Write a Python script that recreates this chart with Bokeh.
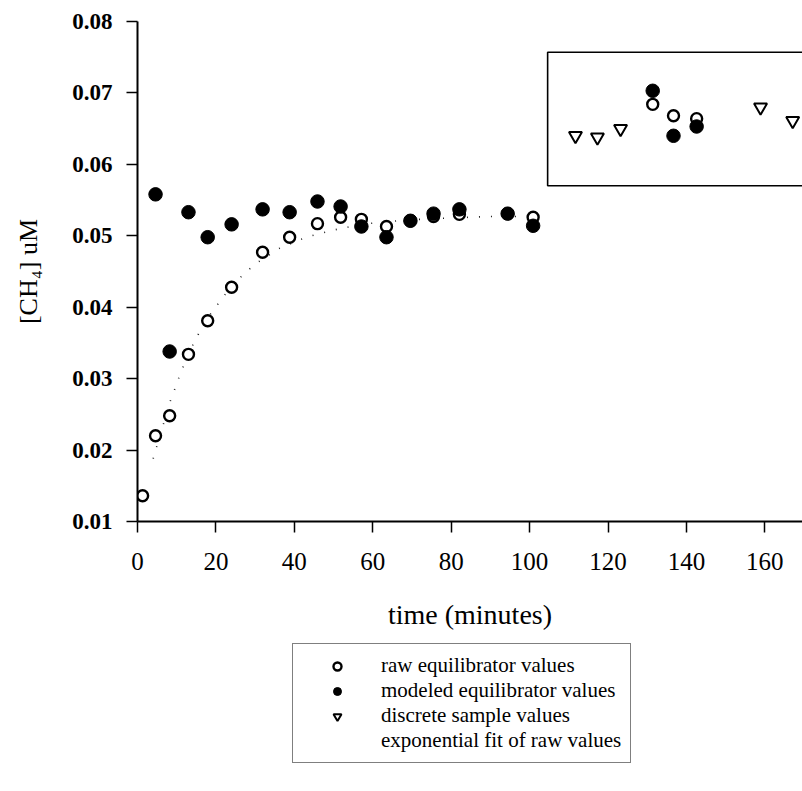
from bokeh.plotting import figure
from bokeh.layouts import column
from bokeh.models import Range1d, FixedTicker, PrintfTickFormatter, Legend, LegendItem
from bokeh.embed import file_html
from bokeh.resources import INLINE

# ---- data ----
raw_t = [1.3, 4.6, 8.2, 13.0, 17.9, 24.0, 31.9, 38.8, 45.9, 51.8, 57.1, 63.5, 69.6, 75.5,
         82.1, 94.4, 100.9, 131.4, 136.7, 142.6]
raw_c = [0.0136, 0.0220, 0.0248, 0.0334, 0.0381, 0.0428, 0.0477, 0.0498, 0.0517, 0.0526,
         0.0523, 0.0513, 0.0521, 0.0527, 0.0530, 0.0531, 0.0526, 0.0684, 0.0668, 0.0664]
mod_t = [4.6, 8.2, 13.0, 17.9, 24.0, 31.9, 38.8, 45.9, 51.8, 57.1, 63.5, 69.6, 75.5,
         82.1, 94.4, 100.9, 131.4, 136.7, 142.6]
mod_c = [0.0558, 0.0338, 0.0533, 0.0498, 0.0516, 0.0537, 0.0533, 0.0548, 0.0541, 0.0513,
         0.0498, 0.0521, 0.0531, 0.0537, 0.0531, 0.0514, 0.0703, 0.0640, 0.0653]
disc_t = [111.7, 117.3, 123.2, 158.9, 167.1]
disc_c = [0.0640, 0.0638, 0.0650, 0.0680, 0.0661]
fit_t = [4, 6, 8.4, 11, 13, 15.5, 18, 20.6, 24, 28, 31, 36, 43, 50, 57, 64, 72, 80, 90, 101]
fit_c = [0.0188, 0.0225, 0.0269, 0.0308, 0.0335, 0.0362, 0.0386, 0.0405, 0.0430, 0.0451,
         0.0464, 0.0482, 0.0498, 0.0508, 0.0516, 0.0520, 0.0523, 0.0525, 0.0527, 0.0527]

x_ticks = [0, 20, 40, 60, 80, 100, 120, 140, 160]
y_ticks = [0.01, 0.02, 0.03, 0.04, 0.05, 0.06, 0.07, 0.08]

labels = ["raw equilibrator values", "modeled equilibrator values",
          "discrete sample values", "exponential fit of raw values"]

# inset box extent (data units); right side runs past the visible range
inset_left, inset_right, inset_bottom, inset_top = 104.6, 190, 0.0570, 0.0757

FONT = "Liberation Serif"

p = figure(width=802, height=639, output_backend="svg", toolbar_location=None,
           x_range=Range1d(0, 169.6), y_range=Range1d(0.01, 0.08),
           min_border_left=137, min_border_right=0, min_border_top=21, min_border_bottom=118)
p.outline_line_color = None
p.grid.visible = False
p.background_fill_color = "white"
p.border_fill_color = "white"

# axes
p.xaxis.ticker = FixedTicker(ticks=x_ticks)
p.yaxis.ticker = FixedTicker(ticks=y_ticks)
p.yaxis.formatter = PrintfTickFormatter(format="%.2f")
for ax in (p.xaxis, p.yaxis):
    ax.axis_line_width = 2
    ax.axis_line_color = "black"
    ax.major_tick_line_width = 1.5
    ax.major_tick_line_color = "black"
    ax.major_tick_in = 0
    ax.major_tick_out = 11
    ax.minor_tick_line_color = None
    ax.major_label_text_font = FONT
    ax.major_label_text_color = "black"
    ax.axis_label_text_font = FONT
    ax.axis_label_text_font_style = "normal"
    ax.axis_label_text_color = "black"

p.xaxis.major_label_text_font_size = "25px"
p.xaxis.major_label_standoff = 20
p.xaxis.axis_label = "time (minutes)"
p.xaxis.axis_label_text_font_size = "28px"
p.xaxis.axis_label_standoff = 26

p.yaxis.major_label_text_font_size = "23px"
p.yaxis.major_label_text_font_style = "bold"
p.yaxis.major_label_standoff = 14
p.yaxis.axis_label = "[CH\u2084] uM"
p.yaxis.axis_label_text_font_size = "26px"
p.yaxis.axis_label_standoff = 26

# inset box (open on the right, where it leaves the picture)
p.line([inset_right, inset_left, inset_left, inset_right],
       [inset_top, inset_top, inset_bottom, inset_bottom],
       line_color="black", line_width=1.6)

# fit line
p.line(fit_t, fit_c, line_color="#222222", line_width=1.6, line_dash="1 11")

RAW_STYLE = dict(marker="circle", size=11, fill_color="white", line_color="black", line_width=2.4)
MOD_STYLE = dict(marker="circle", size=13.5, fill_color="black", line_color="black", line_width=1)
DISC_STYLE = dict(marker="inverted_triangle", size=13, fill_color="white", line_color="black",
                  line_width=2)

p.scatter(raw_t, raw_c, **RAW_STYLE)
p.scatter(mod_t, mod_c, **MOD_STYLE)
p.scatter(disc_t, disc_c, **DISC_STYLE)

# ---- legend panel below the chart (same series, ranges that keep them out of view) ----
q = figure(width=802, height=151, output_backend="svg", toolbar_location=None,
           x_range=Range1d(-2, -1), y_range=Range1d(-2, -1),
           x_axis_type=None, y_axis_type=None,
           min_border_left=0, min_border_right=0, min_border_top=0, min_border_bottom=0)
q.outline_line_color = None
q.grid.visible = False
q.background_fill_color = "white"
q.border_fill_color = "white"

l_raw = q.scatter(raw_t, raw_c, **RAW_STYLE)
l_mod = q.scatter(mod_t, mod_c, **MOD_STYLE)
l_disc = q.scatter(disc_t, disc_c, **DISC_STYLE)
l_fit = q.line(fit_t, fit_c, line_alpha=0)

legend = Legend(items=[LegendItem(label=labels[0], renderers=[l_raw]),
                       LegendItem(label=labels[1], renderers=[l_mod]),
                       LegendItem(label=labels[2], renderers=[l_disc]),
                       LegendItem(label=labels[3], renderers=[l_fit])],
                location=(155, 27))
legend.label_text_font = FONT
legend.label_text_font_size = "21px"
legend.label_text_color = "black"
legend.padding = 9
legend.glyph_width = 70
legend.glyph_height = 20
legend.label_height = 18
legend.label_standoff = 9
legend.spacing = 0
legend.border_line_color = "black"
legend.border_line_width = 1.5
legend.background_fill_color = "white"
legend.background_fill_alpha = 1
q.add_layout(legend, "center")

layout = column(p, q, spacing=0)
open("out.html", "w").write(file_html(layout, INLINE))
